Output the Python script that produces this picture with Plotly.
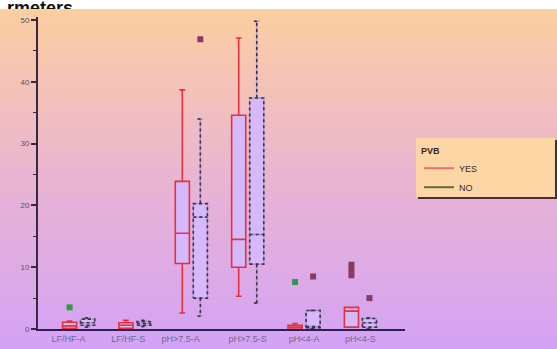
import plotly.graph_objects as go

W, H = 557, 349

categories = ["LF/HF-A", "LF/HF-S", "pH>7.5-A", "pH>7.5-S", "pH<4-A", "pH<4-S"]

yes_lo  = [0.0, 0.0, 2.6, 5.3, 0.0, 0.3]
yes_q1  = [0.1, 0.1, 10.6, 10.0, 0.0, 0.3]
yes_med = [0.5, 0.6, 15.5, 14.5, 0.3, 2.9]
yes_q3  = [1.1, 1.0, 23.9, 34.6, 0.6, 3.5]
yes_hi  = [1.3, 1.4, 38.7, 47.1, 0.9, 3.5]

no_lo  = [0.3, 0.4, 2.1, 4.2, 0.0, 0.0]
no_q1  = [0.6, 0.6, 5.0, 10.5, 0.2, 0.3]
no_med = [1.0, 0.9, 18.1, 15.3, 0.4, 1.0]
no_q3  = [1.6, 1.2, 20.3, 37.4, 3.0, 1.7]
no_hi  = [1.8, 1.4, 34.0, 49.8, 3.0, 1.8]

# outliers: (series, category index, value)
green_out_series = ["YES", "YES"]
green_out_cat = [0, 4]
green_out_val = [3.5, 7.6]
maroon_out_series = ["YES", "YES", "YES", "NO", "NO", "NO"]
maroon_out_cat = [5, 5, 5, 2, 4, 5]
maroon_out_val = [8.7, 9.6, 10.4, 46.9, 8.5, 5.0]

yticks = [0, 10, 20, 30, 40, 50]

OFF = {"YES": -0.16, "NO": 0.16}
BOXW = 0.25
CAPW = 0.1
LABEL_SHIFT = [-0.18, -0.12, -0.19, 0.0, 0.0, 0.0]   # label placement as in the reference
RED = "#e8303c"
DARK = "#3e3050"
FILL = "#d6b9fb"

fig = go.Figure()

# gradient background as bands (paper coords)
stops = [(9, (251, 207, 160)), (100, (242, 192, 188)), (200, (230, 178, 215)), (349, (212, 162, 246))]
def col_at(py):
    for (a, ca), (b, cb) in zip(stops[:-1], stops[1:]):
        if a <= py <= b:
            t = (py - a) / (b - a)
            return tuple(round(ca[i] + (cb[i] - ca[i]) * t) for i in range(3))
    return stops[-1][1]
shapes = []
band = 3
py = 9
while py < H:
    c = col_at(py + band / 2)
    shapes.append(dict(type="rect", xref="paper", yref="paper", x0=0, x1=1,
                       y0=1 - min(py + band + 0.5, H) / H, y1=1 - py / H,
                       fillcolor="rgb(%d,%d,%d)" % c, line=dict(width=0), layer="below"))
    py += band

def px(x): return x / W
def py_(y): return 1 - y / H
# legend background with shadow
shapes.append(dict(type="rect", xref="paper", yref="paper", x0=px(418), x1=px(557), y0=py_(199), y1=py_(140),
                   fillcolor="#4a2e3e", line=dict(width=0), layer="below"))
shapes.append(dict(type="rect", xref="paper", yref="paper", x0=px(416), x1=px(555), y0=py_(197), y1=py_(138),
                   fillcolor="#fdd6a6", line=dict(width=0), layer="below"))

def box_trace(name, lo, q1, med, q3, hi, color, lw):
    return go.Box(
        x=[i + OFF[name] for i in range(len(categories))],
        lowerfence=lo, q1=q1, median=med, q3=q3, upperfence=hi,
        width=BOXW, whiskerwidth=0.4,
        fillcolor=FILL, line=dict(color=color, width=lw),
        boxpoints=False, showlegend=False, name=name,
    )

fig.add_trace(box_trace("YES", yes_lo, yes_q1, yes_med, yes_q3, yes_hi, RED, 1.6))
fig.add_trace(box_trace("NO", no_lo, no_q1, no_med, no_q3, no_hi, "#a898c4", 1.4))

# dotted outline style of the NO boxes (drawn from the same statistics)
dx, dy = [], []
for i in range(len(categories)):
    c = i + OFF["NO"]
    l, r = c - BOXW / 2, c + BOXW / 2
    dx += [l, r, r, l, l, None, l, r, None, c, c, None, c, c, None,
           c - CAPW / 2, c + CAPW / 2, None, c - CAPW / 2, c + CAPW / 2, None]
    dy += [no_q1[i], no_q1[i], no_q3[i], no_q3[i], no_q1[i], None, no_med[i], no_med[i], None,
           no_q3[i], no_hi[i], None, no_q1[i], no_lo[i], None,
           no_hi[i], no_hi[i], None, no_lo[i], no_lo[i], None]
fig.add_trace(go.Scatter(x=dx, y=dy, mode="lines", line=dict(color=DARK, width=1.6, dash="dot"),
                         hoverinfo="skip", showlegend=False))

fig.add_trace(go.Scatter(
    x=[c + OFF[s] for s, c in zip(green_out_series, green_out_cat)], y=green_out_val,
    mode="markers", marker=dict(symbol="square", size=6, color="#2e9a48"), showlegend=False))
fig.add_trace(go.Scatter(
    x=[c + OFF[s] for s, c in zip(maroon_out_series, maroon_out_cat)], y=maroon_out_val,
    mode="markers", marker=dict(symbol="square", size=6, color="#8a3a62"), showlegend=False))

# legend entries
fig.add_trace(go.Scatter(x=[None], y=[None], mode="lines", name="YES", line=dict(color="#f07070", width=2)))
fig.add_trace(go.Scatter(x=[None], y=[None], mode="lines", name="NO", line=dict(color="#5a6a48", width=2)))

# header text, partly hidden below the top white strip (as in the reference)
fig.add_trace(go.Scatter(x=[7], y=[-0.1], xaxis="x2", yaxis="y2", mode="text", text=["rmeters"],
                         textposition="middle right", cliponaxis=True, showlegend=False,
                         textfont=dict(family="Liberation Sans", size=18, color="#111", weight="bold")))

fig.update_layout(
    width=W, height=H, template="none",
    margin=dict(l=0, r=0, t=0, b=0),
    paper_bgcolor="white", plot_bgcolor="rgba(0,0,0,0)",
    boxmode="overlay",
    shapes=shapes,
    font=dict(family="Liberation Sans", size=9, color="#333"),
    xaxis=dict(domain=[38 / W, 405 / W], range=[-0.72, 5.79],
               tickvals=[i + s for i, s in enumerate(LABEL_SHIFT)],
               ticktext=categories, showgrid=False, zeroline=False, showline=True,
               linecolor="#2c2050", linewidth=2, ticks="", ticklen=0, automargin=False,
               tickfont=dict(size=9, color="#6a6a90")),
    yaxis=dict(domain=[1 - 329 / H, 1 - 17 / H], range=[0, 50.5], tickvals=yticks,
               showgrid=False, zeroline=False, showline=True, linecolor="#3a2840", linewidth=2,
               ticks="outside", ticklen=5, tickwidth=1.5, tickcolor="#3a2840", automargin=False,
               tickfont=dict(size=8, color="#555"),
               minor=dict(dtick=5, ticks="outside", ticklen=3, tickcolor="#3a2840", tickwidth=1)),
    xaxis2=dict(domain=[0, 1], range=[0, W], visible=False, anchor="y2"),
    yaxis2=dict(domain=[1 - 9 / H, 1], range=[0, 1], visible=False, anchor="x2"),
    legend=dict(x=px(419), y=py_(142), xanchor="left", yanchor="top", bgcolor="rgba(0,0,0,0)",
                borderwidth=0, font=dict(size=9, color="#3a2a20"), tracegroupgap=0,
                title=dict(text="<b>PVB</b>", font=dict(size=9, color="#3a2a20"))),
)

fig.write_html("out.html", config={"displayModeBar": False},
               post_script="document.body.style.margin='0';document.body.style.overflow='hidden';")
